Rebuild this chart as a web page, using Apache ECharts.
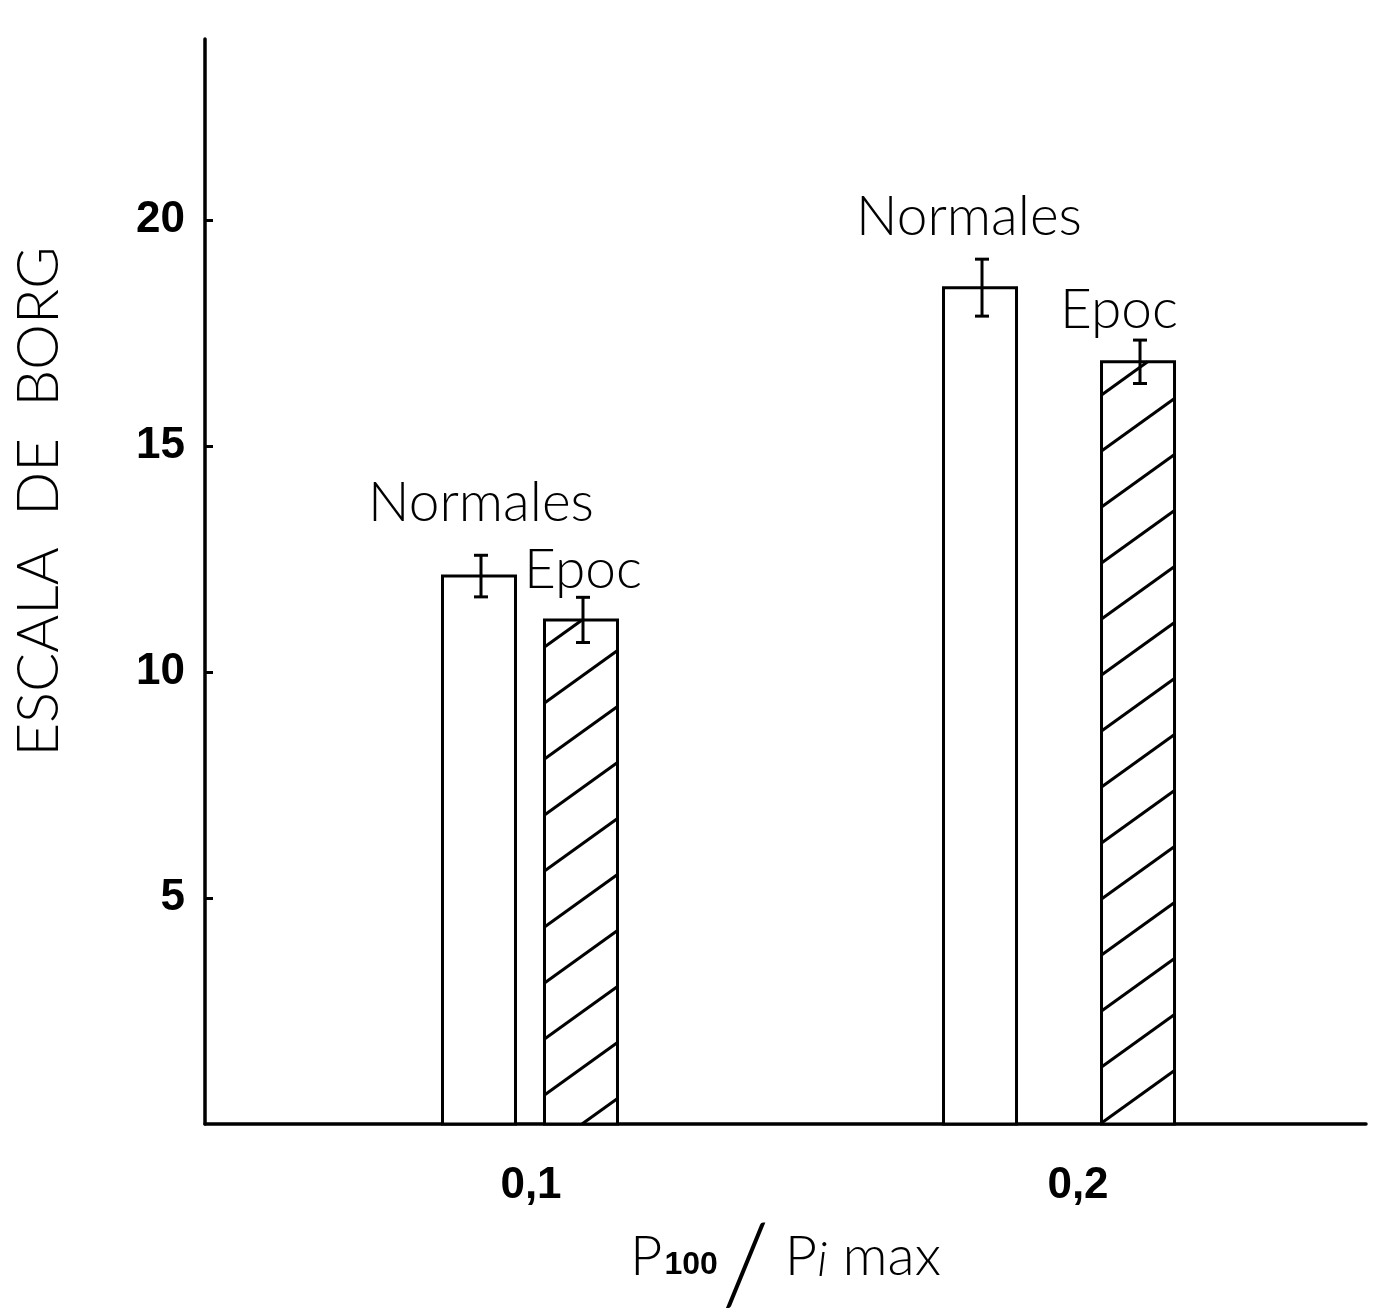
<!DOCTYPE html>
<html><head><meta charset="utf-8">
<script src="https://cdn.jsdelivr.net/npm/echarts@6/dist/echarts.min.js"></script>
<style>html,body{margin:0;padding:0;background:#fff}#c{width:1376px;height:1316px}</style>
</head><body><div id="c"></div>
<script>
// ---- data ----
const categories = ['0,1', '0,2'];
const xValues = [0.1, 0.2];
const normales = [12.12, 18.5];
const normalesErr = [0.46, 0.63];
const epoc = [11.15, 16.86];
const epocErr = [0.5, 0.48];
const yTicks = [5, 10, 15, 20];
const seriesNames = ['Normales', 'Epoc'];

// ---- layout / style constants ----
const BAR_W = 73;
const offsets = { Normales: [-52, -79], Epoc: [50, 79] };
const labelDx = { Normales: [2, -11], Epoc: [2, -19] };
const labelDy = { Normales: [73, 70], Epoc: [50, 52] };
const hatchPhase = [29, 1];
const THIN = 'Lato, "Open Sans", sans-serif';
const BOLD = '"Liberation Sans", Arial, sans-serif';

function makeRender(name, hatched) {
  return function (params, api) {
    const i = params.dataIndex;
    const x = api.value(0), v = api.value(1), e = api.value(2);
    const top = api.coord([x, v]);
    const base = api.coord([x, 0]);
    const cx = top[0] + offsets[name][i];
    const L = cx - BAR_W / 2, R = cx + BAR_W / 2, T = top[1], B = base[1];
    const children = [{
      type: 'rect', shape: { x: L, y: T, width: BAR_W, height: B - T },
      style: { fill: '#fff', stroke: '#000', lineWidth: 3 }
    }];
    if (hatched) {
      const s = 0.72, sp = 56;
      for (let k = -3; k < 80; k++) {
        const yl = B - hatchPhase[i] - k * sp;
        if (yl < T) break;
        const x0 = Math.max(L, L + (yl - B) / s);
        const x1 = Math.min(R, L + (yl - T) / s);
        if (x1 - x0 > 1) {
          children.push({
            type: 'line',
            shape: { x1: x0, y1: yl - s * (x0 - L), x2: x1, y2: yl - s * (x1 - L) },
            style: { stroke: '#000', lineWidth: 3 }
          });
        }
      }
    }
    const ex = cx + 2;
    const yTop = api.coord([x, v + e])[1];
    const yBot = api.coord([x, v - e])[1];
    children.push(
      { type: 'line', shape: { x1: ex, y1: yTop, x2: ex, y2: yBot }, style: { stroke: '#000', lineWidth: 3 } },
      { type: 'line', shape: { x1: ex - 7, y1: yTop, x2: ex + 7, y2: yTop }, style: { stroke: '#000', lineWidth: 3 } },
      { type: 'line', shape: { x1: ex - 7, y1: yBot, x2: ex + 7, y2: yBot }, style: { stroke: '#000', lineWidth: 3 } },
      {
        type: 'text', x: cx + labelDx[name][i], y: T - labelDy[name][i],
        style: {
          text: name, fill: '#000', fontFamily: THIN, fontWeight: 300, fontSize: 55,
          align: 'center', verticalAlign: 'middle'
        }
      }
    );
    return { type: 'group', children: children };
  };
}

const chart = echarts.init(document.getElementById('c'), null, { renderer: 'canvas' });
chart.setOption({
  backgroundColor: '#fff',
  animation: false,
  grid: { left: 205, right: 10, top: 39, bottom: 192, containLabel: false, outerBoundsMode: 'none' },
  xAxis: {
    type: 'value', min: 0.03826, max: 0.25814,
    splitLine: { show: false },
    axisLine: { show: true, lineStyle: { color: '#000', width: 3.5 } },
    axisTick: { show: false },
    axisLabel: {
      customValues: xValues, margin: 40,
      fontFamily: BOLD, fontWeight: 'bold', fontSize: 44, color: '#000',
      formatter: function (val) {
        let idx = 0, best = Infinity;
        xValues.forEach((xv, j) => { if (Math.abs(xv - val) < best) { best = Math.abs(xv - val); idx = j; } });
        return idx === 1 ? '{b|' + categories[idx] + '}' : categories[idx];
      },
      rich: { b: { fontFamily: BOLD, fontWeight: 'bold', fontSize: 44, color: '#000', padding: [0, 0, 0, 38] } }
    },
    name: '{p|P}{s|100}{sl|/}{p| P}{i|i}{p| max}',
    nameLocation: 'middle', nameGap: 44,
    nameTextStyle: {
      rich: {
        p: { fontFamily: THIN, fontWeight: 300, fontSize: 56, color: '#000', verticalAlign: 'bottom', padding: [0, 0, 38, 0] },
        s: { fontFamily: BOLD, fontWeight: 'bold', fontSize: 32, color: '#000', verticalAlign: 'bottom', padding: [0, 4, 42, 2] },
        sl: { fontFamily: THIN, fontWeight: 300, fontSize: 110, color: '#000', verticalAlign: 'bottom' },
        i: { fontFamily: THIN, fontWeight: 300, fontStyle: 'italic', fontSize: 48, color: '#000', verticalAlign: 'bottom', padding: [0, 0, 38, 0] }
      }
    }
  },
  yAxis: {
    type: 'value', min: 0, max: 24,
    splitLine: { show: false },
    axisLine: { show: true, lineStyle: { color: '#000', width: 3.5 } },
    axisTick: { show: true, inside: true, length: 8, customValues: yTicks, lineStyle: { color: '#000', width: 3 } },
    axisLabel: {
      customValues: yTicks, margin: 20,
      fontFamily: BOLD, fontWeight: 'bold', fontSize: 44, color: '#000'
    },
    name: 'ESCALA  DE  BORG',
    nameLocation: 'middle', nameRotate: 90, nameGap: 137,
    nameTextStyle: { fontFamily: THIN, fontWeight: 300, fontSize: 58, color: '#000', padding: [0, 0, 0, 160] }
  },
  series: [
    {
      name: seriesNames[0], type: 'custom', coordinateSystem: 'cartesian2d',
      renderItem: makeRender(seriesNames[0], false), clip: false,
      encode: { x: 0, y: 1 },
      data: xValues.map((xv, j) => [xv, normales[j], normalesErr[j]])
    },
    {
      name: seriesNames[1], type: 'custom', coordinateSystem: 'cartesian2d',
      renderItem: makeRender(seriesNames[1], true), clip: false,
      encode: { x: 0, y: 1 },
      data: xValues.map((xv, j) => [xv, epoc[j], epocErr[j]])
    }
  ]
});
</script></body></html>
